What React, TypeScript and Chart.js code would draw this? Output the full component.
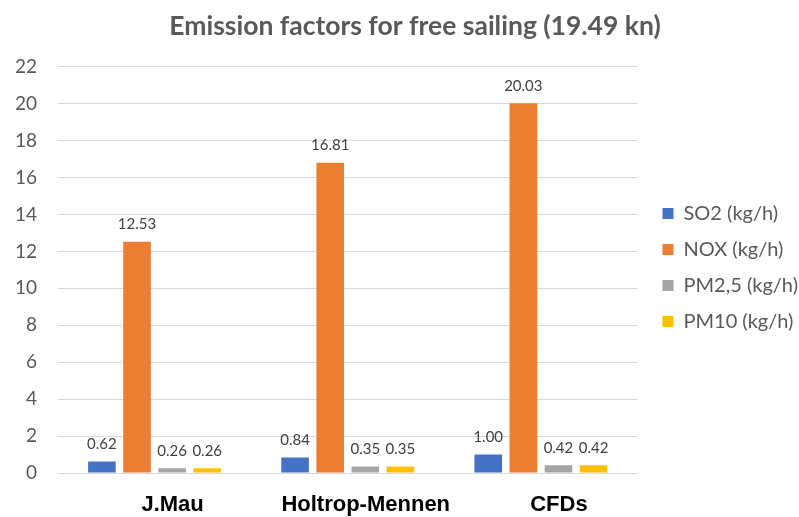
import React, { useEffect, useRef } from "react";
import { Chart, registerables } from "chart.js";

Chart.register(...registerables);

const categories = ["J.Mau", "Holtrop-Mennen", "CFDs"];
const seriesNames = ["SO2 (kg/h)", "NOX (kg/h)", "PM2,5 (kg/h)", "PM10 (kg/h)"];
const so2 = [0.62, 0.84, 1.0];
const nox = [12.53, 16.81, 20.03];
const pm25 = [0.26, 0.35, 0.42];
const pm10 = [0.26, 0.35, 0.42];
const seriesColors = ["#4472C4", "#ED7D31", "#A5A5A5", "#FFC000"];
const yTicks = [0, 2, 4, 6, 8, 10, 12, 14, 16, 18, 20, 22];

const FONT = "Lato, 'Open Sans', sans-serif";

const valueLabels = {
  id: "valueLabels",
  afterDatasetsDraw(chart: any) {
    const ctx = chart.ctx;
    ctx.save();
    ctx.font = `15px ${FONT}`;
    ctx.fillStyle = "#404040";
    ctx.textAlign = "center";
    ctx.textBaseline = "middle";
    chart.data.datasets.forEach((ds: any, i: number) => {
      const meta = chart.getDatasetMeta(i);
      meta.data.forEach((bar: any, j: number) => {
        const v = ds.data[j];
        ctx.fillText(Number(v).toFixed(2), bar.x, bar.y - 17);
      });
    });
    ctx.restore();
  },
};

const layoutTweaks = {
  id: "layoutTweaks",
  beforeLayout(chart: any) {
    const lg = chart.legend;
    if (lg && !lg.__patched) {
      const orig = lg.fit;
      lg.fit = function () {
        this.maxWidth = Math.max(this.maxWidth || 0, 220);
        orig.call(this);
      };
      lg.__patched = true;
    }
  },
  afterLayout(chart: any) {
    if (chart.titleBlock) chart.titleBlock.left += 22;
  },
};

export default function App() {
  const ref = useRef<HTMLCanvasElement | null>(null);
  useEffect(() => {
    if (!ref.current) return;
    const data = [so2, nox, pm25, pm10];
    const chart = new Chart(ref.current, {
      type: "bar",
      data: {
        labels: categories,
        datasets: seriesNames.map((name, i) => ({
          label: name,
          data: data[i],
          backgroundColor: seriesColors[i],
          borderWidth: 0,
          categoryPercentage: 0.727,
          barPercentage: 0.786,
        })),
      },
      options: {
        responsive: false,
        animation: false,
        devicePixelRatio: 1,
        layout: { padding: { left: 0, right: -9, top: 0, bottom: 0 } },
        plugins: {
          title: {
            display: true,
            text: "Emission factors for free sailing (19.49 kn)",
            color: "#595959",
            font: { family: FONT, size: 26.5, weight: "bold" },
            padding: { top: 11, bottom: 24 },
          },
          legend: {
            position: "right",
            title: { display: true, text: "", font: { size: 1 }, padding: { top: 17, bottom: 0 } },
            labels: {
              boxWidth: 11,
              boxHeight: 11,
              padding: 16,
              color: "#595959",
              font: { family: FONT, size: 20 },
            },
          },
          tooltip: { enabled: false },
        },
        scales: {
          x: {
            grid: { display: false, drawTicks: false },
            border: { display: false },
            afterFit(scale: any) {
              scale.height = 44;
            },
            ticks: {
              color: "#000000",
              padding: 19,
              labelOffset: 18,
              font: { family: "'Liberation Sans', Arial, sans-serif", size: 22, weight: "bold" },
            },
          },
          y: {
            min: 0,
            max: 22,
            afterBuildTicks(scale: any) {
              scale.ticks = yTicks.map((v) => ({ value: v }));
            },
            afterFit(scale: any) {
              scale.width = 58;
            },
            grid: { color: "#D9D9D9", lineWidth: 1, drawTicks: false },
            border: { display: false },
            ticks: {
              color: "#595959",
              padding: 21,
              font: { family: FONT, size: 19 },
            },
          },
          yRight: {
            position: "right",
            display: true,
            grid: { display: false, drawTicks: false },
            border: { display: false },
            ticks: { display: false },
            afterFit(scale: any) {
              scale.width = 9;
            },
          },
        },
      },
      plugins: [valueLabels, layoutTweaks],
    });
    return () => chart.destroy();
  }, []);
  return (
    <div style={{ position: "absolute", left: 0, top: 0, width: 799, height: 517, background: "#fff" }}>
      <canvas ref={ref} width={799} height={517} />
    </div>
  );
}
